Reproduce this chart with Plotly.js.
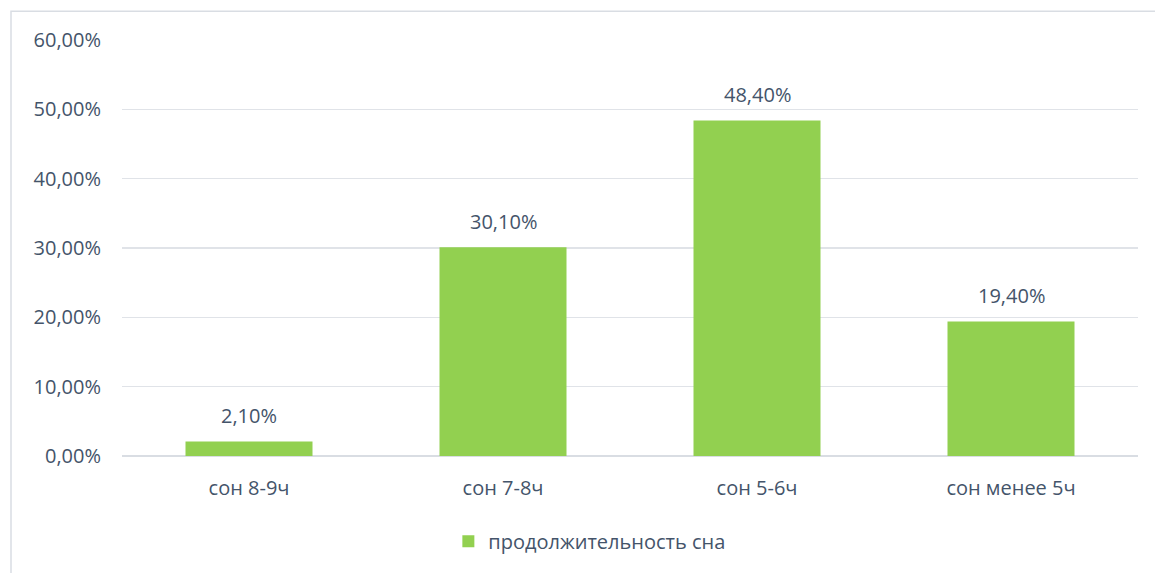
<!DOCTYPE html>
<html>
<head>
<meta charset="utf-8">
<script src="https://cdn.plot.ly/plotly-3.0.1.min.js"></script>
<style>html,body{margin:0;padding:0;background:#fff;}#chart{width:1155px;height:573px;}</style>
</head>
<body>
<div id="chart"></div>
<script>
const categories = ['сон 8-9ч', 'сон 7-8ч', 'сон 5-6ч', 'сон менее 5ч'];
const values = [2.1, 30.1, 48.4, 19.4];
const seriesName = 'продолжительность сна';
const yTicks = [0, 10, 20, 30, 40, 50, 60];

const textColor = '#44546a';
const fontFam = '"Open Sans", "Noto Sans", sans-serif';
const fmt = v => v.toFixed(2).replace('.', ',') + '%';

const trace = {
  type: 'bar',
  x: categories,
  y: values,
  name: seriesName,
  marker: {color: '#92d050'},
  showlegend: true,
  hoverinfo: 'none'
};

const annotations = categories.map((c, i) => ({
  x: c, y: values[i], xref: 'x', yref: 'y',
  text: fmt(values[i]), showarrow: false,
  yanchor: 'bottom', yshift: 10,
  font: {size: 20, color: textColor, family: fontFam}
}));

const layout = {
  width: 1155,
  height: 573,
  margin: {l: 122, r: 17, t: 40, b: 114},
  paper_bgcolor: '#ffffff',
  plot_bgcolor: '#ffffff',
  font: {family: fontFam, color: textColor, size: 20},
  bargap: 0.5,
  showlegend: true,
  legend: {orientation: 'h', x: 0.46, xanchor: 'center', y: -0.205, yanchor: 'middle',
           font: {size: 20, color: textColor}},
  xaxis: {showgrid: false, showline: false, zeroline: false, ticks: '',
          ticklabelstandoff: 18,
          tickfont: {size: 20, color: textColor}},
  yaxis: {range: [0, 60], tickmode: 'array', tickvals: yTicks, ticktext: yTicks.map(fmt),
          showgrid: true, gridcolor: '#e0e3e8', gridwidth: 1.3,
          zeroline: true, zerolinecolor: '#d9dde3', zerolinewidth: 2,
          showline: false, ticks: '', ticklabelstandoff: 20,
          tickfont: {size: 20, color: textColor}},
  annotations: annotations,
  shapes: [{type: 'rect', xref: 'paper', yref: 'paper',
            x0: (11 - 122) / 1016, x1: 1.2, y0: -0.5, y1: (458 - 11) / 418,
            line: {color: '#d9dde3', width: 1.5}, fillcolor: 'rgba(0,0,0,0)', layer: 'below'}]
};

Plotly.newPlot('chart', [trace], layout, {displayModeBar: false, staticPlot: true});
</script>
</body>
</html>
